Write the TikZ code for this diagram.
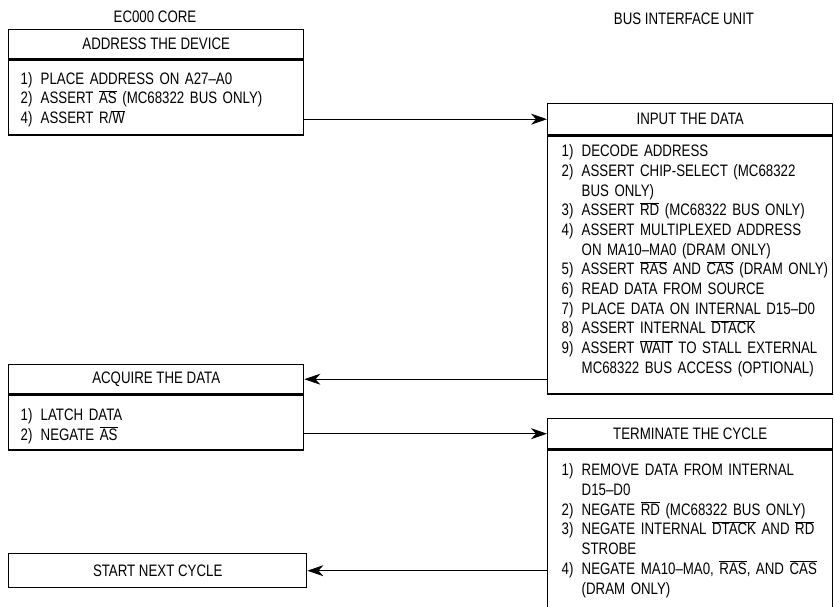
\documentclass[tikz,border=0pt]{standalone}
\usepackage{fontspec}
\setmainfont{Liberation Sans}[FakeStretch=0.80]
\usetikzlibrary{arrows.meta}

\newcommand\ovl[1]{$\overline{\mbox{#1}}$}
\newcommand\itm[2]{\par\noindent\makebox[20pt][l]{#1)}\mbox{#2}}
\newcommand\cnt[1]{\par\noindent\hspace*{20pt}\mbox{#1}}
\newcommand\gap[1]{\rule[-#1]{0pt}{#1}}

\begin{document}
\begin{tikzpicture}[
    x = 1pt,
    y = -1pt,
    font = \fontsize{16.6}{19.7}\selectfont,
    >={Stealth[length=16pt, width=11pt, inset=5pt]},
    box/.style = {
      draw,
      line width = 1.4pt,
      anchor = north west,
      inner sep = 0pt
    },
    hdr/.style = {box, align = center},
    lbody/.style = {box, align = left, inner xsep = 12pt, text width = 271pt},
    rbody/.style = {box, align = left, inner xsep = 14pt, text width = 257pt},
    link/.style = {->, line width = 0.8pt}
  ]
  \useasboundingbox (0,0) rectangle (834,606);

  \node (core) at (155,17) {EC000 CORE};
  \node (biu)  at (684,19) {BUS INTERFACE UNIT};

  % EC000 side
  \node[hdr, minimum width=295pt, minimum height=29pt] (addrH) at (8,29) {ADDRESS THE DEVICE};
  \node[lbody, minimum height=75pt] (addrB) at (addrH.south west) {%
    \itm{1}{PLACE ADDRESS ON A27–A0}
    \itm{2}{ASSERT \ovl{AS} (MC68322 BUS ONLY)}
    \itm{4}{ASSERT R/\ovl{W}}\gap{7pt}};

  \node[hdr, minimum width=295pt, minimum height=29pt] (acqH) at (8,364) {ACQUIRE THE DATA};
  \node[lbody, minimum height=55pt] (acqB) at (acqH.south west) {%
    \itm{1}{LATCH DATA}
    \itm{2}{NEGATE \ovl{AS}}\gap{2pt}};

  \node[hdr, minimum width=298pt, minimum height=34pt] (start) at (8,553) {START NEXT CYCLE};

  % bus interface side
  \node[hdr, minimum width=285pt, minimum height=31pt] (inH) at (547,103) {INPUT THE DATA};
  \node[rbody, minimum height=258pt] (inB) at (inH.south west) {%
    \itm{1}{DECODE ADDRESS}
    \itm{2}{ASSERT CHIP-SELECT (MC68322}
    \cnt{BUS ONLY)}
    \itm{3}{ASSERT \ovl{RD} (MC68322 BUS ONLY)}
    \itm{4}{ASSERT MULTIPLEXED ADDRESS}
    \cnt{ON MA10–MA0 (DRAM ONLY)}
    \itm{5}{ASSERT \ovl{RAS} AND \ovl{CAS} (DRAM ONLY)}
    \itm{6}{READ DATA FROM SOURCE}
    \itm{7}{PLACE DATA ON INTERNAL D15–D0}
    \itm{8}{ASSERT INTERNAL \ovl{DTACK}}
    \itm{9}{ASSERT \ovl{WAIT} TO STALL EXTERNAL}
    \cnt{MC68322 BUS ACCESS (OPTIONAL)}\gap{20pt}};

  \node[hdr, minimum width=285pt, minimum height=30pt] (termH) at (547,418) {TERMINATE THE CYCLE};
  \node[rbody, minimum height=162pt] (termB) at (termH.south west) {%
    \itm{1}{REMOVE DATA FROM INTERNAL}
    \cnt{D15–D0}
    \itm{2}{NEGATE \ovl{RD} (MC68322 BUS ONLY)}
    \itm{3}{NEGATE INTERNAL \ovl{DTACK} AND \ovl{RD}}
    \cnt{STROBE}
    \itm{4}{NEGATE MA10–MA0, \ovl{RAS}, AND \ovl{CAS}}
    \cnt{(DRAM ONLY)}\gap{12pt}};

  % handshake
  \draw[link] (inH.west -| addrB.east) -- (inH.west);
  \draw[link] (acqH.east -| inB.west) -- (acqH.east);
  \draw[link] (termH.west -| acqB.east) -- (termH.west);
  \draw[link] (start.east -| termB.west) -- (start.east);
\end{tikzpicture}
\end{document}
